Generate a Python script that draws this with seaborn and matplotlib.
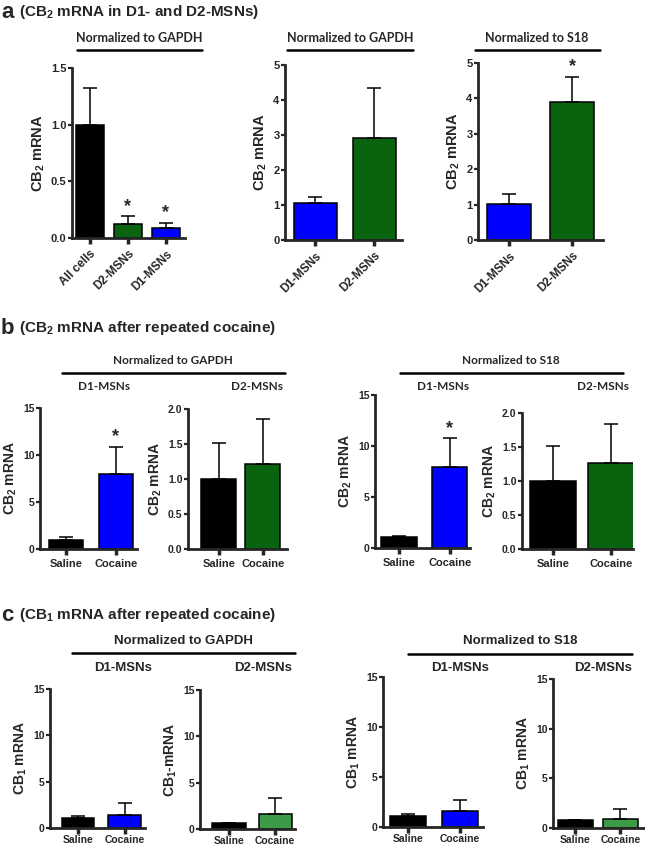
import matplotlib
matplotlib.use("Agg")
import matplotlib.pyplot as plt
from matplotlib.lines import Line2D
import seaborn as sns
import numpy as np

# ---- data ----
# panel a
a1_cats = ["All cells", "D2-MSNs", "D1-MSNs"]
a1_vals = [1.0, 0.12, 0.09]
a1_errs = [0.32, 0.07, 0.045]
a2_cats = ["D1-MSNs", "D2-MSNs"]
a2_vals = [1.05, 2.9]
a2_errs = [0.17, 1.45]
a3_cats = ["D1-MSNs", "D2-MSNs"]
a3_vals = [1.03, 3.9]
a3_errs = [0.27, 0.7]

# panel b / c: saline vs cocaine
groups = ["Saline", "Cocaine"]
b1_vals = [1.0, 8.0]
b1_errs = [0.25, 2.9]
b2_vals = [1.0, 1.22]
b2_errs = [0.51, 0.64]
b3_vals = [1.07, 7.9]
b3_errs = [0.13, 2.85]
b4_vals = [1.0, 1.26]
b4_errs = [0.52, 0.58]
c1_vals = [1.08, 1.44]
c1_errs = [0.25, 1.26]
c2_vals = [0.65, 1.6]
c2_errs = [0.0, 1.75]
c3_vals = [1.13, 1.63]
c3_errs = [0.17, 1.1]
c4_vals = [0.84, 0.94]
c4_errs = [0.0, 0.98]

BLUE = "#0000ff"
DKGREEN = "#0a640f"
LTGREEN = "#3b9b47"
BLACK = "#000000"

W, H = 645, 846
sns.set_style("ticks")
plt.rcParams["font.family"] = ["Liberation Sans", "DejaVu Sans"]
plt.rcParams["mathtext.fontset"] = "custom"
plt.rcParams["mathtext.bf"] = "Liberation Sans:bold"
plt.rcParams["mathtext.rm"] = "Liberation Sans:bold"
plt.rcParams["mathtext.default"] = "bf"

fig = plt.figure(figsize=(W / 100, H / 100), dpi=100)


def px_ax(left, top, right, bottom):
    return fig.add_axes([left / W, 1 - bottom / H, (right - left) / W, (bottom - top) / H])


def ftext(x, y, s, **kw):
    fig.text(x / W, 1 - y / H, s, **kw)


def fline(x0, x1, y):
    fig.add_artist(Line2D([x0 / W, x1 / W], [1 - y / H, 1 - y / H],
                          transform=fig.transFigure, color="black", lw=1.8))


def bars(ax, cats, vals, errs, colors, ylim, yticks, ylabel, xlim, width,
         rot=False, stars=(), tick_fs=7.5, lab_fs=10, x_fs=8, xpad=3):
    sns.barplot(x=cats, y=vals, hue=cats, palette=colors, legend=False,
                width=width, edgecolor="black", linewidth=1.1,
                saturation=1, errorbar=None, ax=ax)
    x = np.arange(len(cats))
    lower = np.zeros(len(vals))
    ax.errorbar(x, vals, yerr=[lower, errs], fmt="none", ecolor="black",
                elinewidth=1.1, capsize=5, capthick=1.1, zorder=1)
    for i in stars:
        ax.text(i, vals[i] + errs[i] + (ylim[1] - ylim[0]) * 0.01, "*",
                ha="center", va="bottom", fontsize=13, fontweight="bold")
    ax.set_ylim(*ylim)
    ax.set_xlim(*xlim)
    ax.set_yticks(yticks)
    ax.set_yticklabels([str(t) for t in yticks], fontsize=tick_fs,
                       fontweight="bold")
    ax.set_ylabel(ylabel, fontsize=lab_fs, fontweight="bold", labelpad=3)
    ax.set_xlabel("")
    ax.set_xticks(x)
    if rot:
        ax.set_xticklabels(cats, rotation=45, ha="right",
                           rotation_mode="anchor", fontsize=x_fs,
                           fontweight="bold")
    else:
        ax.set_xticklabels(cats, fontsize=x_fs, fontweight="bold")
    sns.despine(ax=ax)
    for s in ("left", "bottom"):
        ax.spines[s].set_linewidth(2.0)
    ax.tick_params(axis="y", width=1.6, length=3, pad=1)
    ax.tick_params(axis="x", width=2.5, length=4, pad=xpad)


# ---------------- panel a ----------------
ftext(1, 12, "a", fontsize=16, fontweight="bold", va="center")
ftext(19, 12, r"(CB$_2$ mRNA in D1- and D2-MSNs)", fontsize=11,
      fontweight="bold", va="center")

ax = px_ax(72, 68, 185, 238)
bars(ax, a1_cats, a1_vals, a1_errs, [BLACK, DKGREEN, BLUE], (0, 1.5),
     [0.0, 0.5, 1.0, 1.5], r"CB$_2$ mRNA", (-0.47, 2.5), 0.72, rot=True,
     stars=(1, 2), tick_fs=8, lab_fs=10.5, x_fs=8.5)
ax.set_yticklabels(["0.0", "0.5", "1.0", "1.5"], fontsize=8, fontweight="bold")

ax = px_ax(285, 65, 402, 240)
bars(ax, a2_cats, a2_vals, a2_errs, [BLUE, DKGREEN], (0, 5),
     [0, 1, 2, 3, 4, 5], r"CB$_2$ mRNA", (-0.51, 1.47), 0.73, rot=True,
     tick_fs=8, lab_fs=10.5, x_fs=8.5)

ax = px_ax(478, 63, 603, 240)
bars(ax, a3_cats, a3_vals, a3_errs, [BLUE, DKGREEN], (0, 5),
     [0, 1, 2, 3, 4, 5], r"CB$_2$ mRNA", (-0.49, 1.49), 0.7, rot=True,
     stars=(1,), tick_fs=8, lab_fs=10.5, x_fs=8.5)

for cx, x0, x1, s in [(139, 77, 202, "Normalized to GAPDH"),
                      (350, 287, 413, "Normalized to GAPDH"),
                      (537, 475, 600, "Normalized to S18")]:
    ftext(cx, 38, s, fontsize=9, fontweight="bold", family="Lato",
          ha="center", va="center")
    fline(x0, x1, 50)

# ---------------- panel b ----------------
ftext(1, 328, "b", fontsize=16, fontweight="bold", va="center")
ftext(19, 328, r"(CB$_2$ mRNA after repeated cocaine)", fontsize=11,
      fontweight="bold", va="center")

ax = px_ax(40, 408, 137, 549)
bars(ax, groups, b1_vals, b1_errs, [BLACK, BLUE], (0, 15), [0, 5, 10, 15],
     r"CB$_2$ mRNA", (-0.52, 1.42), 0.68, stars=(1,))
ax = px_ax(188, 409, 287, 549)
bars(ax, groups, b2_vals, b2_errs, [BLACK, DKGREEN], (0, 2.0),
     [0.0, 0.5, 1.0, 1.5, 2.0], r"CB$_2$ mRNA", (-0.7, 1.55), 0.8)
ax.set_yticklabels(["0.0", "0.5", "1.0", "1.5", "2.0"], fontsize=7.5,
                   fontweight="bold")
ax = px_ax(375, 395, 470, 548)
bars(ax, groups, b3_vals, b3_errs, [BLACK, BLUE], (0, 15), [0, 5, 10, 15],
     r"CB$_2$ mRNA", (-0.47, 1.4), 0.7, stars=(1,))
ax = px_ax(522, 413, 633, 549)
bars(ax, groups, b4_vals, b4_errs, [BLACK, DKGREEN], (0, 2.0),
     [0.0, 0.5, 1.0, 1.5, 2.0], r"CB$_2$ mRNA", (-0.53, 1.38), 0.8)
ax.set_yticklabels(["0.0", "0.5", "1.0", "1.5", "2.0"], fontsize=7.5,
                   fontweight="bold")

for cx, x0, x1, s, d1, d2 in [(173, 62, 285, "Normalized to GAPDH", 104, 257),
                              (511, 400, 623, "Normalized to S18", 443, 603)]:
    ftext(cx, 360, s, fontsize=8.5, fontweight="bold", family="Lato",
          ha="center", va="center")
    fline(x0, x1, 373)
    ftext(d1, 387, "D1-MSNs", fontsize=8.5, fontweight="bold", family="Lato",
          ha="center", va="center")
    ftext(d2, 387, "D2-MSNs", fontsize=8.5, fontweight="bold", family="Lato",
          ha="center", va="center")

# ---------------- panel c ----------------
ftext(1, 615, "c", fontsize=16, fontweight="bold", va="center")
ftext(19, 615, r"(CB$_1$ mRNA after repeated cocaine)", fontsize=11,
      fontweight="bold", va="center")

ax = px_ax(50, 689, 145, 828)
bars(ax, groups, c1_vals, c1_errs, [BLACK, BLUE], (0, 15), [0, 5, 10, 15],
     r"CB$_1$ mRNA", (-0.6, 1.43), 0.7, x_fs=7.5, xpad=1)
ax = px_ax(200, 690, 295, 829)
bars(ax, groups, c2_vals, c2_errs, [BLACK, LTGREEN], (0, 15), [0, 5, 10, 15],
     r"CB$_1$-mRNA", (-0.63, 1.43), 0.72, x_fs=7.5, xpad=1)
ax = px_ax(383, 677, 483, 827)
bars(ax, groups, c3_vals, c3_errs, [BLACK, BLUE], (0, 15), [0, 5, 10, 15],
     r"CB$_1$ mRNA", (-0.49, 1.45), 0.69, x_fs=7.5, xpad=1)
ax = px_ax(553, 679, 644, 828)
bars(ax, groups, c4_vals, c4_errs, [BLACK, LTGREEN], (0, 15), [0, 5, 10, 15],
     r"CB$_1$ mRNA", (-0.49, 1.52), 0.78, x_fs=7.5, xpad=1)

for cx, x0, x1, y, s, d1, d2 in [(183, 72, 295, 653, "Normalized to GAPDH", 123, 263),
                                 (520, 408, 632, 654, "Normalized to S18", 460, 603)]:
    ftext(cx, 641, s, fontsize=9.5, fontweight="bold", ha="center", va="center")
    fline(x0, x1, y)
    ftext(d1, 668, "D1-MSNs", fontsize=9.5, fontweight="bold", ha="center", va="center")
    ftext(d2, 668, "D2-MSNs", fontsize=9.5, fontweight="bold", ha="center", va="center")

fig.savefig("out.png", dpi=100)
